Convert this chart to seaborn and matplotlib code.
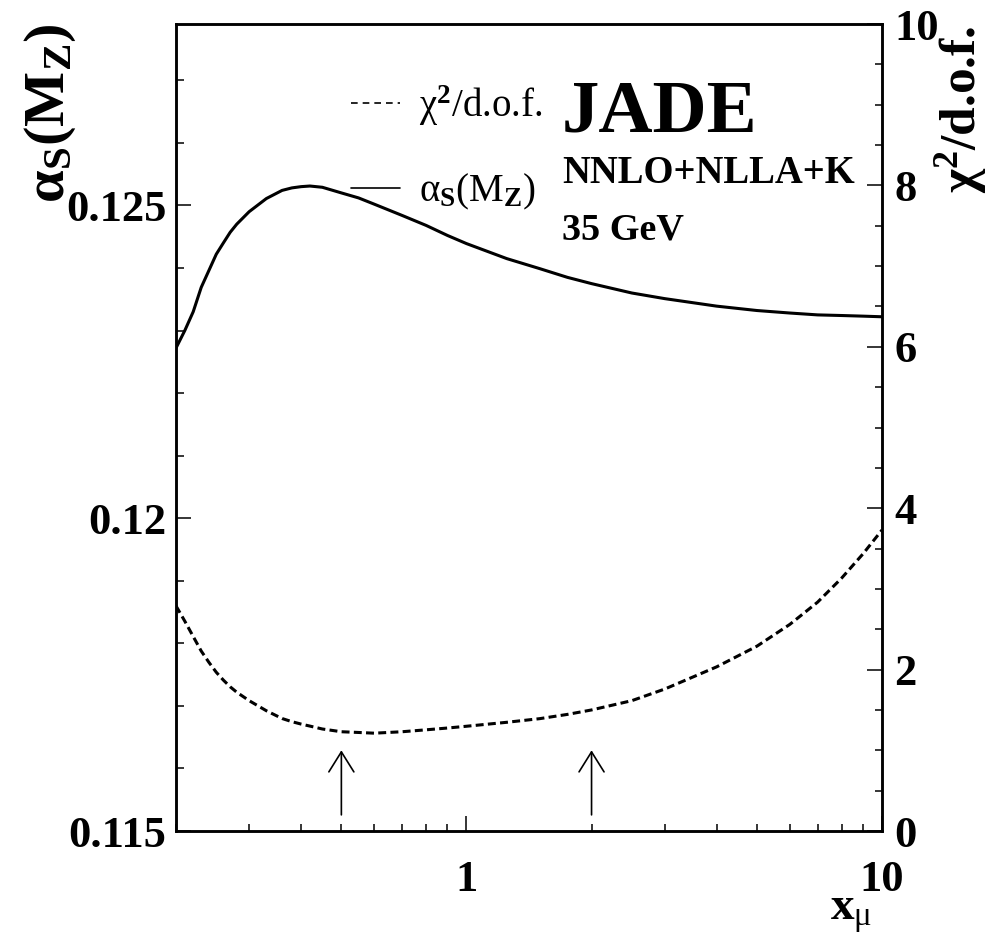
import matplotlib
matplotlib.use("Agg")
import matplotlib.pyplot as plt
import numpy as np
import pandas as pd
import seaborn as sns
from matplotlib.lines import Line2D
from matplotlib.ticker import FixedLocator, FixedFormatter, NullFormatter

# Renormalisation scale factor x_mu and fit results at each scale
x_mu = [0.20, 0.21, 0.22, 0.23, 0.24, 0.25, 0.26, 0.27, 0.28, 0.30, 0.33,
        0.36, 0.38, 0.40, 0.42, 0.45, 0.50, 0.55, 0.60, 0.70, 0.80, 0.90,
        1.00, 1.25, 1.50, 1.75, 2.00, 2.50, 3.00, 4.00, 5.00, 6.00, 7.00,
        8.00, 9.00, 10.0]
alpha_s = [0.12272, 0.12300, 0.12330, 0.12369, 0.12396, 0.12422, 0.12440,
           0.12457, 0.12470, 0.12490, 0.12511, 0.12524, 0.12528, 0.12530,
           0.12531, 0.12529, 0.12520, 0.12512, 0.12502, 0.12484, 0.12468,
           0.12452, 0.12439, 0.12415, 0.12399, 0.12385, 0.12375, 0.12360,
           0.12351, 0.12339, 0.12332, 0.12328, 0.12325, 0.12324, 0.12323,
           0.12322]
chi2_ndf = [2.79, 2.60, 2.41, 2.23, 2.09, 1.967, 1.87, 1.787, 1.72, 1.615,
            1.49, 1.394, 1.355, 1.325, 1.300, 1.264, 1.230, 1.221, 1.212,
            1.230, 1.254, 1.276, 1.298, 1.347, 1.392, 1.445, 1.500, 1.615,
            1.759, 2.034, 2.29, 2.56, 2.836, 3.135, 3.434, 3.73]

# Scale variation range marked by arrows (x_mu = 0.5 and 2)
arrow_x = [0.5, 2.0]
arrow_chi2 = [0.2, 1.0]

x_major = [1, 10]
x_major_labels = ["1", "10"]
x_minor = [0.2, 0.3, 0.4, 0.5, 0.6, 0.7, 0.8, 0.9, 2, 3, 4, 5, 6, 7, 8, 9]
a_major = [0.115, 0.120, 0.125]
a_major_labels = ["0.115", "0.12", "0.125"]
a_minor = [0.116, 0.117, 0.118, 0.119, 0.121, 0.122, 0.123, 0.124, 0.126, 0.127]
c_major = [0, 2, 4, 6, 8, 10]
c_major_labels = ["0", "2", "4", "6", "8", "10"]
c_minor = [0.5, 1, 1.5, 2.5, 3, 3.5, 4.5, 5, 5.5, 6.5, 7, 7.5, 8.5, 9, 9.5]

sns.set_theme(style="ticks")
plt.rcParams["font.family"] = ["Liberation Serif", "DejaVu Serif"]
plt.rcParams.update({
    "mathtext.fontset": "custom",
    "mathtext.rm": "Liberation Serif:bold",
    "mathtext.it": "Liberation Serif:italic",
    "mathtext.bf": "Liberation Serif:bold",
    "mathtext.sf": "Liberation Serif",
    "axes.linewidth": 1.8,
    "text.color": "black",
    "axes.labelcolor": "black",
    "xtick.color": "black",
    "ytick.color": "black",
    "axes.edgecolor": "black",
})

W, H = 989, 938
fig = plt.figure(figsize=(W / 100, H / 100), dpi=100)
fig.patch.set_facecolor("white")
ax = fig.add_axes([176 / W, 1 - 831 / H, (882 - 176) / W, (831 - 24) / H])
ax.set_facecolor("white")

df = pd.DataFrame({"x_mu": x_mu, "alpha_s": alpha_s, "chi2": chi2_ndf})

sns.lineplot(data=df, x="x_mu", y="alpha_s", ax=ax, color="black",
             lw=2.2, legend=False)
ax.set_xscale("log")
ax.set_xlim(0.2, 10)
ax.set_ylim(0.115, 0.1279)

ax2 = ax.twinx()
sns.lineplot(data=df, x="x_mu", y="chi2", ax=ax2, color="black",
             lw=2.2, linestyle=(0, (2.6, 1.4)), legend=False)
ax2.set_ylim(0, 10)
ax2.set_xlim(0.2, 10)

for a in (ax, ax2):
    a.set_xlabel("")
    a.set_ylabel("")
    for sp in a.spines.values():
        sp.set_linewidth(1.8)
        sp.set_color("black")

# Axis ticks
ax.xaxis.set_major_locator(FixedLocator(x_major))
ax.xaxis.set_major_formatter(FixedFormatter(x_major_labels))
ax.xaxis.set_minor_locator(FixedLocator(x_minor))
ax.xaxis.set_minor_formatter(NullFormatter())
ax.yaxis.set_major_locator(FixedLocator(a_major))
ax.yaxis.set_major_formatter(FixedFormatter(a_major_labels))
ax.yaxis.set_minor_locator(FixedLocator(a_minor))
ax.yaxis.set_minor_formatter(NullFormatter())
ax2.yaxis.set_major_locator(FixedLocator(c_major))
ax2.yaxis.set_major_formatter(FixedFormatter(c_major_labels))
ax2.yaxis.set_minor_locator(FixedLocator(c_minor))
ax2.yaxis.set_minor_formatter(NullFormatter())

ax.tick_params(axis="both", which="both", direction="in", top=False,
               right=False, color="black", labelcolor="black")
ax.tick_params(axis="both", which="major", length=10.8, width=1.1, labelsize=32)
ax.tick_params(axis="both", which="minor", length=5.4, width=1.1)
ax.tick_params(axis="x", which="major", pad=21)
ax.tick_params(axis="y", which="major", pad=7)
ax2.tick_params(axis="y", which="both", direction="in", left=False,
                right=True, color="black", labelcolor="black")
ax2.tick_params(axis="y", which="major", length=10.8, width=1.1,
                labelsize=32, pad=9)
ax2.tick_params(axis="y", which="minor", length=5.4, width=1.1)
ax2.tick_params(axis="x", which="both", bottom=False, top=False,
                labelbottom=False)
for lab in ax.get_xticklabels() + ax.get_yticklabels() + ax2.get_yticklabels():
    lab.set_fontweight("bold")

# Arrows marking the scale range
for xa in arrow_x:
    ax2.annotate("", xy=(xa, arrow_chi2[1]), xytext=(xa, arrow_chi2[0]),
                 arrowprops=dict(arrowstyle="->,head_length=0.72,head_width=0.45",
                                 lw=1.2, color="black", shrinkA=0, shrinkB=0,
                                 mutation_scale=20))

# Axis titles
fig.text(50 / W, 1 - 24 / H, r"α$_{\rm S}$(M$_{\rm Z}$)", rotation=90,
         ha="center", va="top", fontsize=42, fontweight="bold")
fig.text(989 / W, 1 - 26 / H, r"χ$^{2}$/d.o.f.", rotation=90,
         ha="right", va="top", fontsize=37, fontweight="bold")
fig.text(872 / W, 1 - 920 / H, r"x$_{\mathsf{\mu}}$", ha="right",
         va="baseline", fontsize=34, fontweight="bold")

# Experiment / theory annotations
fig.text(562 / W, 1 - 131 / H, "JADE", ha="left", va="baseline",
         fontsize=54, fontweight="bold")
fig.text(562 / W, 1 - 183 / H, "NNLO+NLLA+K", ha="left", va="baseline",
         fontsize=27.8, fontweight="bold")
fig.text(562 / W, 1 - 239 / H, "35 GeV", ha="left", va="baseline",
         fontsize=27.5, fontweight="bold")

# Legend
handles = [Line2D([], [], color="black", lw=1.2, linestyle=(0, (4, 3))),
           Line2D([], [], color="black", lw=1.2)]
labels = [r"χ$^{2}$/d.o.f.", r"α$_{\rm S}$(M$_{\rm Z}$)"]
leg = ax.legend(handles, labels, loc="upper left",
                bbox_to_anchor=(351 / W, 1 - 83 / H),
                bbox_transform=fig.transFigure, frameon=False,
                fontsize=28, handlelength=1.25, handletextpad=0.5,
                labelspacing=1.15, borderpad=0, borderaxespad=0)
for t in leg.get_texts():
    t.set_color("black")

fig.savefig("out.png", dpi=100, facecolor="white")
